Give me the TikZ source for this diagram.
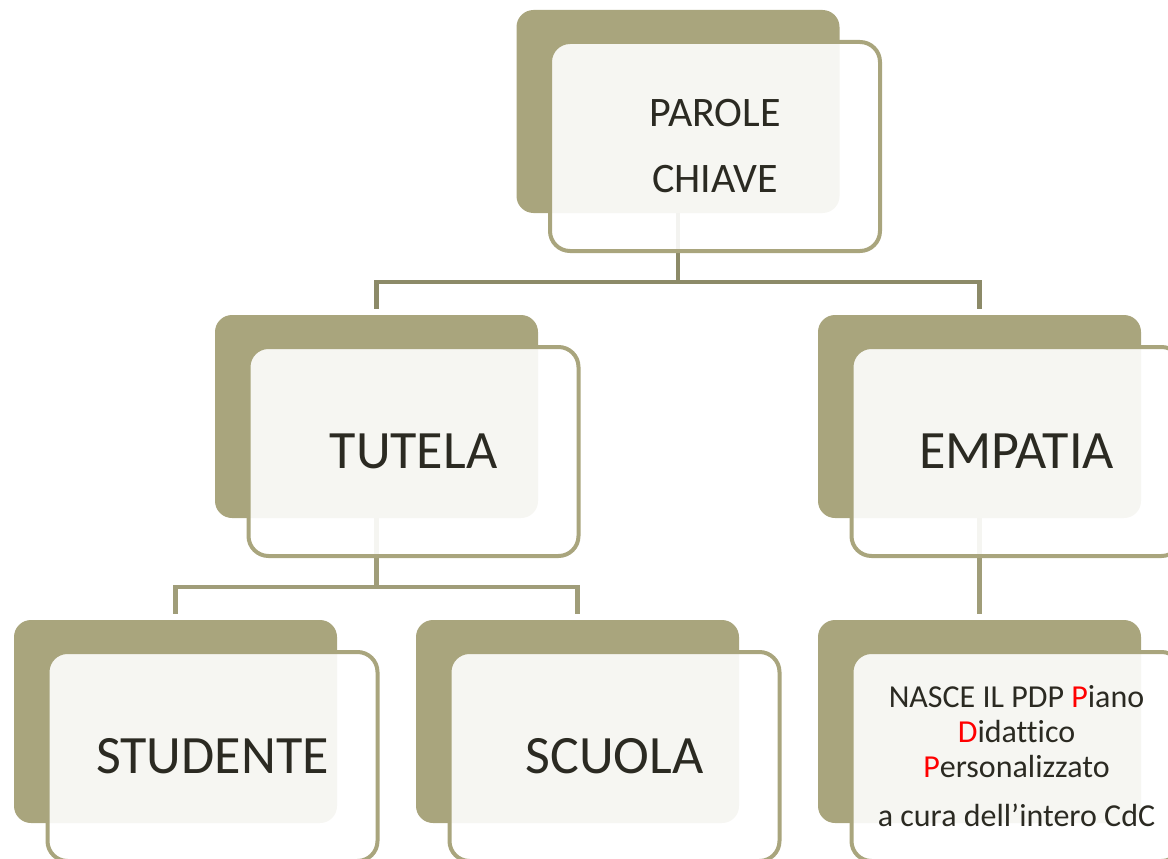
\documentclass[tikz,border=0pt]{standalone}
\usepackage{fontspec}
\setmainfont[Ligatures={NoCommon}]{Carlito}
\definecolor{olive}{HTML}{A9A57D}
\definecolor{linetop}{HTML}{8C8A68}
\definecolor{linelow}{HTML}{A09D79}
\definecolor{ink}{HTML}{2B2A22}
\definecolor{hl}{HTML}{FF0000}
\tikzset{
  backbox/.style={rectangle, rounded corners=17pt, fill=olive, minimum width=323pt, minimum height=203pt, inner sep=0pt},
  frontbox/.style={rectangle, rounded corners=20pt, draw=olive, line width=4pt, fill=white, fill opacity=0.9, text opacity=1, text=ink, minimum width=330pt, minimum height=209pt, inner sep=0pt, align=center},
  connA/.style={draw=linetop, line width=4.5pt, shorten >=6pt},
  connB/.style={draw=linelow, line width=4.5pt, shorten >=6pt},
  bigtxt/.style={font=\fontsize{54}{60}\selectfont},
  midtxt/.style={font=\fontsize{42}{66}\selectfont},
  smalltxt/.style={font=\fontsize{32}{35}\selectfont}
}
\begin{document}
\begin{tikzpicture}[x=1pt,y=-1pt]
\useasboundingbox (0,0) rectangle (1168,859);
\clip (0,0) rectangle (1168,859);
% back boxes
\node[backbox] (pbk) at (678,111.5) {};
\node[backbox] (tbk) at (376.5,416.5) {};
\node[backbox] (ebk) at (979.5,416.5) {};
\node[backbox] (sbk) at (175.5,721.5) {};
\node[backbox] (cbk) at (577.5,721.5) {};
\node[backbox] (nbk) at (979.5,721.5) {};
% connectors
\coordinate (j1) at (678,282);
\coordinate (j2) at (376.5,587);
\draw[connA] (pbk.south) -- (j1) -| (tbk.north);
\draw[connA] (j1) -| (ebk.north);
\draw[connB] (tbk.south) -- (j2) -| (sbk.north);
\draw[connB] (j2) -| (cbk.north);
\draw[connB] (ebk.south) -- (nbk.north);
% front boxes
\node[frontbox, midtxt] (pfr) at (715,146.5) {PAROLE\\CHIAVE};
\node[frontbox, bigtxt] (tfr) at (413.5,451.5) {TUTELA};
\node[frontbox, bigtxt] (efr) at (1016.5,451.5) {EMPATIA};
\node[frontbox, bigtxt] (sfr) at (212.5,756.5) {STUDENTE};
\node[frontbox, bigtxt] (cfr) at (614.5,756.5) {SCUOLA};
\node[frontbox, smalltxt] (nfr) at (1016.5,756.5) {NASCE IL PDP {\color{hl}P}iano\\{\color{hl}D}idattico\\{\color{hl}P}ersonalizzato\\[14pt]a cura dell’intero CdC};
\end{tikzpicture}
\end{document}
